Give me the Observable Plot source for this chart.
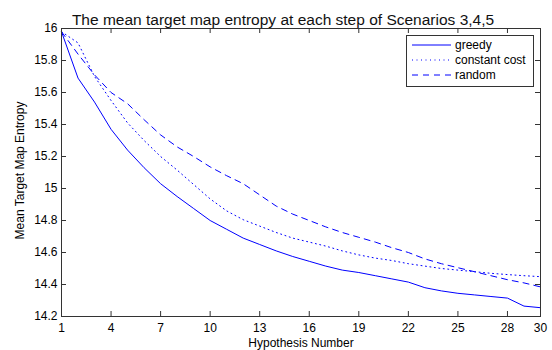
<!DOCTYPE html>
<html><head><meta charset="utf-8">
<script src="https://cdn.jsdelivr.net/npm/d3@7"></script>
<script src="https://cdn.jsdelivr.net/npm/@observablehq/plot@0.6"></script>
<style>
body{margin:0;background:#fff}
#chart{width:552px;height:350px}
</style>
</head><body><div id="chart"></div>
<script>
const titleText = "The mean target map entropy at each step of Scenarios 3,4,5";
const xLabel = "Hypothesis Number";
const yLabel = "Mean Target Map Entropy";
const hypothesis = [1,2,3,4,5,6,7,8,9,10,11,12,13,14,15,16,17,18,19,20,21,22,23,24,25,26,27,28,29,30];
const greedy = [15.98,15.69,15.54,15.37,15.24,15.13,15.03,14.95,14.875,14.80,14.745,14.69,14.65,14.61,14.575,14.545,14.515,14.49,14.475,14.455,14.435,14.415,14.38,14.36,14.345,14.335,14.325,14.315,14.265,14.255];
const constantCost = [15.98,15.91,15.70,15.55,15.41,15.30,15.20,15.115,15.025,14.935,14.86,14.805,14.765,14.725,14.69,14.665,14.64,14.61,14.585,14.565,14.55,14.53,14.515,14.50,14.49,14.48,14.47,14.462,14.455,14.449];
const random = [15.98,15.84,15.71,15.60,15.53,15.43,15.335,15.26,15.20,15.135,15.08,15.03,14.96,14.89,14.84,14.80,14.76,14.725,14.695,14.665,14.63,14.60,14.56,14.53,14.505,14.48,14.455,14.43,14.41,14.385];
const seriesNames = ["greedy","constant cost","random"];
const xTicks = [1,4,7,10,13,16,19,22,25,28,30];
const yTicks = [14.2,14.4,14.6,14.8,15,15.2,15.4,15.6,15.8,16];

const mk = (vals) => hypothesis.map((h,i) => ({h, v: vals[i]}));
const dGreedy = mk(greedy), dConst = mk(constantCost), dRandom = mk(random);

const W = 552, H = 350, ML = 61, MR = 12, MT = 28, MB = 34;
const FW = W - ML - MR, FH = H - MT - MB;
const axisColor = "#333";
const dashes = [null, "1,3.5", "6,5"];
const font = "'Liberation Sans', Arial, sans-serif";

const plot = Plot.plot({
  width: W, height: H,
  marginLeft: ML, marginRight: MR, marginTop: MT, marginBottom: MB,
  style: {fontFamily: font, fontSize: "12px", background: "white", color: "#000"},
  x: {domain: [1, 30]},
  y: {domain: [14.2, 16]},
  marks: [
    Plot.line(dGreedy, {x: "h", y: "v", stroke: "blue", strokeWidth: 1}),
    Plot.line(dConst, {x: "h", y: "v", stroke: "blue", strokeWidth: 1, strokeDasharray: dashes[1]}),
    Plot.line(dRandom, {x: "h", y: "v", stroke: "blue", strokeWidth: 1, strokeDasharray: dashes[2]}),
    Plot.frame({stroke: axisColor}),
    Plot.tickX(xTicks, {x: d => d, insetTop: FH - 5, stroke: axisColor}),
    Plot.tickX(xTicks, {x: d => d, insetBottom: FH - 5, stroke: axisColor}),
    Plot.tickY(yTicks, {y: d => d, insetRight: FW - 5, stroke: axisColor}),
    Plot.tickY(yTicks, {y: d => d, insetLeft: FW - 5, stroke: axisColor}),
    Plot.axisX(xTicks, {tickSize: 0, tickPadding: 7, label: null, tickFormat: d => String(d), fontSize: 12}),
    Plot.axisY(yTicks, {tickSize: 0, tickPadding: 4, label: null, tickFormat: d => String(d), fontSize: 12}),
    Plot.text([titleText], {frameAnchor: "top", dx: -18, dy: -4, fontSize: 15.5, lineAnchor: "bottom", textAnchor: "middle", fill: "#111"}),
    Plot.text([xLabel], {frameAnchor: "bottom", dy: 27, fontSize: 12, lineAnchor: "middle", textAnchor: "middle"}),
    Plot.text([yLabel], {frameAnchor: "left", dx: -41, dy: -2, rotate: -90, fontSize: 12, lineAnchor: "middle", textAnchor: "middle"})
  ]
});
document.getElementById("chart").appendChild(plot);

// legend
const svg = d3.select(plot);
const lg = svg.append("g").attr("font-family", font).attr("font-size", 12).attr("text-anchor", "start");
lg.append("rect").attr("x", 406.5).attr("y", 35.5).attr("width", 127).attr("height", 51)
  .attr("fill", "white").attr("stroke", axisColor);
const rowY = [45, 60, 75];
seriesNames.forEach((name, i) => {
  lg.append("line").attr("x1", 412).attr("x2", 451).attr("y1", rowY[i]).attr("y2", rowY[i])
    .attr("stroke", "blue").attr("stroke-dasharray", dashes[i]);
  lg.append("text").attr("x", 455).attr("y", rowY[i]).attr("dy", "0.35em").attr("text-anchor", "start").text(name);
});
</script>
</body></html>
